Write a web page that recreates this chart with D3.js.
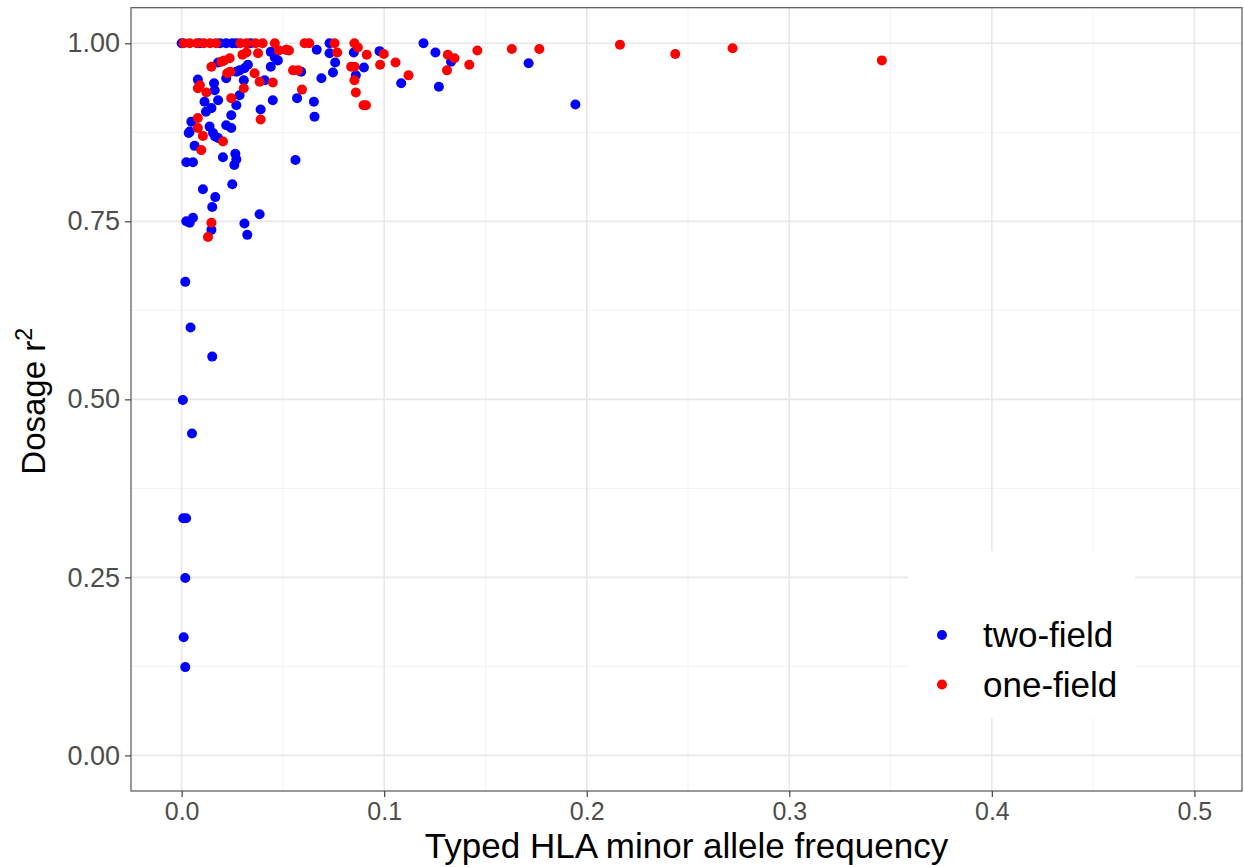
<!DOCTYPE html>
<html>
<head>
<meta charset="utf-8">
<script src="https://cdn.jsdelivr.net/npm/d3@7"></script>
<style>
  body { margin: 0; background: #fff; }
  text { font-family: "Liberation Sans", Arial, Helvetica, sans-serif; }
</style>
</head>
<body>
<div id="chart"></div>
<script>
// two-field alleles (blue)
var twoFieldMaf = [0.000, 0.009, 0.019, 0.022, 0.025, 0.027, 0.034,
  0.044, 0.046, 0.018, 0.0327, 0.031, 0.0286, 0.027, 0.044, 0.0475,
  0.008, 0.016, 0.022, 0.0307, 0.041, 0.0163, 0.018, 0.0286, 0.045, 0.039, 0.0113, 0.0147, 0.012, 0.0048, 0.0245, 0.027, 0.022, 0.0245, 0.0138, 0.004, 0.0155, 0.0165,
  0.0035, 0.018, 0.0064, 0.0023, 0.0056, 0.0204, 0.0265, 0.027, 0.026, 0.025, 0.0105, 0.0166, 0.0151, 0.0385, 0.0023, 0.0056, 0.004, 0.0147, 0.031, 0.0324, 0.0562,
  0.0018, 0.0044, 0.0151, 0.0006, 0.0051, 0.0008, 0.0022, 0.0018, 0.001, 0.0018,
  0.0517, 0.0667, 0.073, 0.073, 0.0758, 0.0747, 0.069, 0.085, 0.0977, 0.1084, 0.09, 0.086, 0.059, 0.057, 0.0653, 0.0656,
  0.1194, 0.1253, 0.133, 0.127, 0.1713, 0.1944];
var twoFieldR2 = [1.0, 1.0, 1.0, 1.0, 1.0, 1.0, 1.0,
  0.988, 0.980, 0.973, 0.970, 0.965, 0.962, 0.960, 0.967, 0.976,
  0.949, 0.944, 0.951, 0.948, 0.948, 0.934, 0.920, 0.927, 0.920, 0.907, 0.918, 0.909, 0.904, 0.890, 0.899, 0.913, 0.885, 0.881, 0.883, 0.876, 0.874, 0.869,
  0.874, 0.867, 0.856, 0.833, 0.833, 0.840, 0.845, 0.837, 0.829, 0.802, 0.795, 0.784, 0.770, 0.760, 0.750, 0.755, 0.748, 0.738, 0.747, 0.731, 0.836,
  0.665, 0.601, 0.560, 0.499, 0.452, 0.333, 0.333, 0.249, 0.166, 0.124,
  0.991, 0.991, 1.0, 0.986, 0.973, 0.959, 0.951, 0.987, 0.989, 0.944, 0.966, 0.955, 0.960, 0.923, 0.918, 0.897,
  1.0, 0.987, 0.974, 0.939, 0.972, 0.914];

// one-field alleles (red)
var oneFieldMaf = [0.001, 0.004, 0.0075, 0.011, 0.014, 0.017, 0.029, 0.032, 0.0365, 0.040, 0.046,
  0.048, 0.053, 0.0377, 0.030, 0.032, 0.0237, 0.021, 0.0196, 0.0147, 0.024, 0.0225, 0.036, 0.009, 0.008, 0.0385, 0.045, 0.0307, 0.0122, 0.0245, 0.039, 0.008, 0.008, 0.0105, 0.0204, 0.0097, 0.0147, 0.013,
  0.0517, 0.0607, 0.063, 0.0755, 0.0768, 0.0853, 0.087, 0.0914, 0.0998, 0.098, 0.1056, 0.112, 0.0837, 0.0853, 0.0853, 0.086, 0.0898, 0.091, 0.055, 0.0575, 0.0594,
  0.1314, 0.1347, 0.146, 0.142, 0.131, 0.163, 0.1766,
  0.2164, 0.2437, 0.272, 0.3457];
var oneFieldR2 = [1.0, 1.0, 1.0, 1.0, 1.0, 1.0, 1.0, 1.0, 1.0, 1.0, 1.0,
  0.990, 0.990, 0.986, 0.984, 0.987, 0.979, 0.976, 0.974, 0.967, 0.960, 0.958, 0.958, 0.941, 0.937, 0.946, 0.945, 0.937, 0.931, 0.923, 0.893, 0.895, 0.881, 0.870, 0.862, 0.850, 0.748, 0.728,
  0.991, 1.0, 1.0, 1.0, 0.987, 1.0, 0.994, 0.984, 0.985, 0.970, 0.973, 0.955, 0.967, 0.967, 0.948, 0.931, 0.913, 0.913, 0.962, 0.962, 0.935,
  0.984, 0.979, 0.990, 0.970, 0.962, 0.992, 0.992,
  0.998, 0.985, 0.993, 0.976];

var xTicks = [0, 0.1, 0.2, 0.3, 0.4, 0.5];
var xMinor = [0.05, 0.15, 0.25, 0.35, 0.45];
var yTicks = [0, 0.25, 0.5, 0.75, 1];
var yMinor = [0.125, 0.375, 0.625, 0.875];
var seriesNames = ["two-field", "one-field"];
var seriesColors = ["#0000ff", "#ff0000"];

var svgWidth = 1244;
var svgHeight = 867;
var panel = {left: 131, top: 7.7, right: 1242, bottom: 791};

var svg = d3.select("#chart")
    .append("svg")
    .attr("width", svgWidth)
    .attr("height", svgHeight);

svg.append("rect").attr("width", svgWidth).attr("height", svgHeight).attr("fill", "#fff");

var x = d3.scaleLinear().domain([-0.025, 0.5235]).range([panel.left, panel.right]);
var y = d3.scaleLinear().domain([-0.05, 1.05]).range([panel.bottom, panel.top]);

var grid = svg.append("g");
grid.selectAll(".xminor").data(xMinor).enter().append("line")
    .attr("x1", d => x(d)).attr("x2", d => x(d))
    .attr("y1", panel.top).attr("y2", panel.bottom)
    .attr("stroke", "#f2f2f2").attr("stroke-width", 1);
grid.selectAll(".yminor").data(yMinor).enter().append("line")
    .attr("y1", d => y(d)).attr("y2", d => y(d))
    .attr("x1", panel.left).attr("x2", panel.right)
    .attr("stroke", "#f2f2f2").attr("stroke-width", 1);
grid.selectAll(".xmajor").data(xTicks).enter().append("line")
    .attr("x1", d => x(d)).attr("x2", d => x(d))
    .attr("y1", panel.top).attr("y2", panel.bottom)
    .attr("stroke", "#e8e8e8").attr("stroke-width", 1.6);
grid.selectAll(".ymajor").data(yTicks).enter().append("line")
    .attr("y1", d => y(d)).attr("y2", d => y(d))
    .attr("x1", panel.left).attr("x2", panel.right)
    .attr("stroke", "#e8e8e8").attr("stroke-width", 1.6);

// legend box sits inside the panel and hides the grid behind it
var legend = svg.append("g");
legend.append("rect")
    .attr("x", 908).attr("y", 551).attr("width", 227).attr("height", 167)
    .attr("fill", "#fff");

function drawSeries(xs, ys, color) {
  svg.append("g").selectAll("circle")
    .data(xs.map((v, i) => [v, ys[i]]))
    .enter().append("circle")
    .attr("cx", d => x(d[0]))
    .attr("cy", d => y(d[1]))
    .attr("r", 5)
    .attr("fill", color);
}
drawSeries(twoFieldMaf, twoFieldR2, seriesColors[0]);
drawSeries(oneFieldMaf, oneFieldR2, seriesColors[1]);

// panel border
svg.append("rect")
    .attr("x", panel.left).attr("y", panel.top)
    .attr("width", panel.right - panel.left).attr("height", panel.bottom - panel.top)
    .attr("fill", "none").attr("stroke", "#555").attr("stroke-width", 1.2);

var bottomAxis = d3.axisBottom(x).tickValues(xTicks).tickFormat(d3.format(".1f")).tickSize(6).tickPadding(5);
var leftAxis = d3.axisLeft(y).tickValues(yTicks).tickFormat(d3.format(".2f")).tickSize(6).tickPadding(5);

var gx = svg.append("g").attr("transform", `translate(0,${panel.bottom})`).call(bottomAxis);
var gy = svg.append("g").attr("transform", `translate(${panel.left},0)`).call(leftAxis);
[gx, gy].forEach(function(g) {
  g.select(".domain").remove();
  g.selectAll(".tick line").attr("stroke", "#444").attr("stroke-width", 1.2);
  g.selectAll(".tick text").attr("fill", "#4d4d4d")
    .style("font-family", "'Liberation Sans', Arial, sans-serif");
});
gx.selectAll(".tick text").style("font-size", "25px");
gy.selectAll(".tick text").style("font-size", "27px");

svg.append("text")
    .attr("x", (panel.left + panel.right) / 2)
    .attr("y", 858)
    .attr("text-anchor", "middle")
    .style("font-size", "35px")
    .attr("fill", "#000")
    .text("Typed HLA minor allele frequency");

var yTitle = svg.append("text")
    .attr("transform", `translate(45,${(panel.top + panel.bottom) / 2 + 2}) rotate(-90)`)
    .attr("text-anchor", "middle")
    .style("font-size", "33px")
    .attr("fill", "#000");
yTitle.append("tspan").text("Dosage r");
yTitle.append("tspan").attr("baseline-shift", "super").style("font-size", "23px").text("2");

seriesNames.forEach(function(name, i) {
  var cy = 635 + i * 49.5;
  legend.append("circle").attr("cx", 942).attr("cy", cy).attr("r", 5).attr("fill", seriesColors[i]);
  legend.append("text").attr("x", 983).attr("y", cy + 12)
    .style("font-size", "35px").attr("fill", "#000").text(name);
});
</script>
</body>
</html>
